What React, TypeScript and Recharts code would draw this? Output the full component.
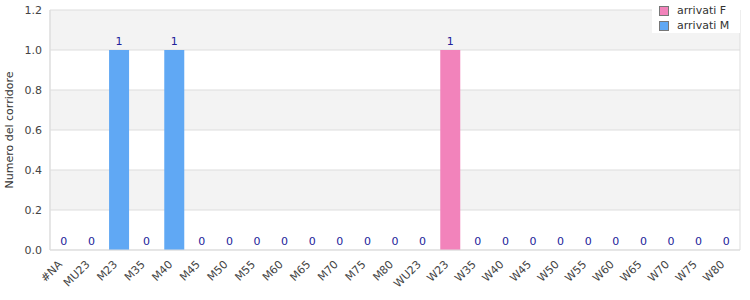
import { ComposedChart, Bar, Line, XAxis, YAxis, CartesianGrid, LabelList } from 'recharts';

const categories = [
  '#NA', 'MU23', 'M23', 'M35', 'M40', 'M45', 'M50', 'M55', 'M60', 'M65', 'M70', 'M75', 'M80',
  'WU23', 'W23', 'W35', 'W40', 'W45', 'W50', 'W55', 'W60', 'W65', 'W70', 'W75', 'W80',
];
const arrivatiF = [0, 0, 0, 0, 0, 0, 0, 0, 0, 0, 0, 0, 0, 0, 1, 0, 0, 0, 0, 0, 0, 0, 0, 0, 0];
const arrivatiM = [0, 0, 1, 0, 1, 0, 0, 0, 0, 0, 0, 0, 0, 0, 0, 0, 0, 0, 0, 0, 0, 0, 0, 0, 0];
const yTicks = [0, 0.2, 0.4, 0.6, 0.8, 1.0, 1.2];

const data = categories.map((name, i) => ({
  name,
  F: arrivatiF[i],
  M: arrivatiM[i],
  total: arrivatiF[i] + arrivatiM[i],
}));

const FONT = 'DejaVu Sans, sans-serif';
const PINK = '#f283bb';
const BLUE = '#60a8f4';

// rotated category labels, right end sits just under the category centre
function XTick({ x, y, payload }: any) {
  return (
    <text
      x={x - 1}
      y={y + 13}
      transform={`rotate(-45, ${x - 1}, ${y + 13})`}
      textAnchor="end"
      fontSize={11}
      fontFamily={FONT}
      fill="#444"
    >
      {payload.value}
    </text>
  );
}

function LegendBox() {
  const items = [
    { label: 'arrivati F', color: PINK },
    { label: 'arrivati M', color: BLUE },
  ];
  return (
    <div
      style={{
        position: 'absolute', left: 652, top: 0, width: 88, height: 33, boxSizing: 'border-box',
        background: '#fff', padding: '3px 0 0 7px', fontFamily: FONT, fontSize: 11, color: '#333',
      }}
    >
      {items.map((it) => (
        <div key={it.label} style={{ display: 'flex', alignItems: 'center', height: 15 }}>
          <span style={{ width: 8, height: 8, background: it.color, border: '1px solid #777', marginRight: 8 }} />
          {it.label}
        </div>
      ))}
    </div>
  );
}

export default function App() {
  return (
    <div style={{ position: 'absolute', left: 0, top: 0, width: 750, height: 300 }}>
      <style>{'body{margin:0}'}</style>
      <ComposedChart width={750} height={300} data={data} margin={{ top: 10, right: 10, bottom: 0, left: 0 }} barCategoryGap="14%">
        <CartesianGrid stroke="#dddddd" horizontalFill={['#f3f3f3', '#ffffff']} verticalPoints={[50, 740]} />
        <XAxis
          dataKey="name"
          interval={0}
          height={50}
          tickLine={false}
          tickSize={0}
          axisLine={{ stroke: '#dddddd' }}
          tick={<XTick />}
        />
        <YAxis
          domain={[0, 1.2]}
          ticks={yTicks}
          width={50}
          tickLine={false}
          axisLine={{ stroke: '#dddddd' }}
          tickFormatter={(v: number) => v.toFixed(1)}
          tick={{ fontSize: 11, fontFamily: FONT, fill: '#444' }}
          label={{
            value: 'Numero del corridore',
            angle: -90,
            position: 'insideLeft',
            dx: 4,
            style: { fontSize: 11, fontFamily: FONT, fill: '#333', textAnchor: 'middle' },
          }}
        />
        <Bar dataKey="F" name="arrivati F" stackId="a" fill={PINK} isAnimationActive={false} />
        <Bar dataKey="M" name="arrivati M" stackId="a" fill={BLUE} isAnimationActive={false} />
        {/* invisible line only carries the total labels, so zero values get one too */}
        <Line dataKey="total" stroke="none" dot={false} activeDot={false} isAnimationActive={false} legendType="none">
          <LabelList dataKey="total" position="top" offset={5} fontSize={11} fontFamily={FONT} fill="#22229a" />
        </Line>
      </ComposedChart>
      <LegendBox />
    </div>
  );
}
